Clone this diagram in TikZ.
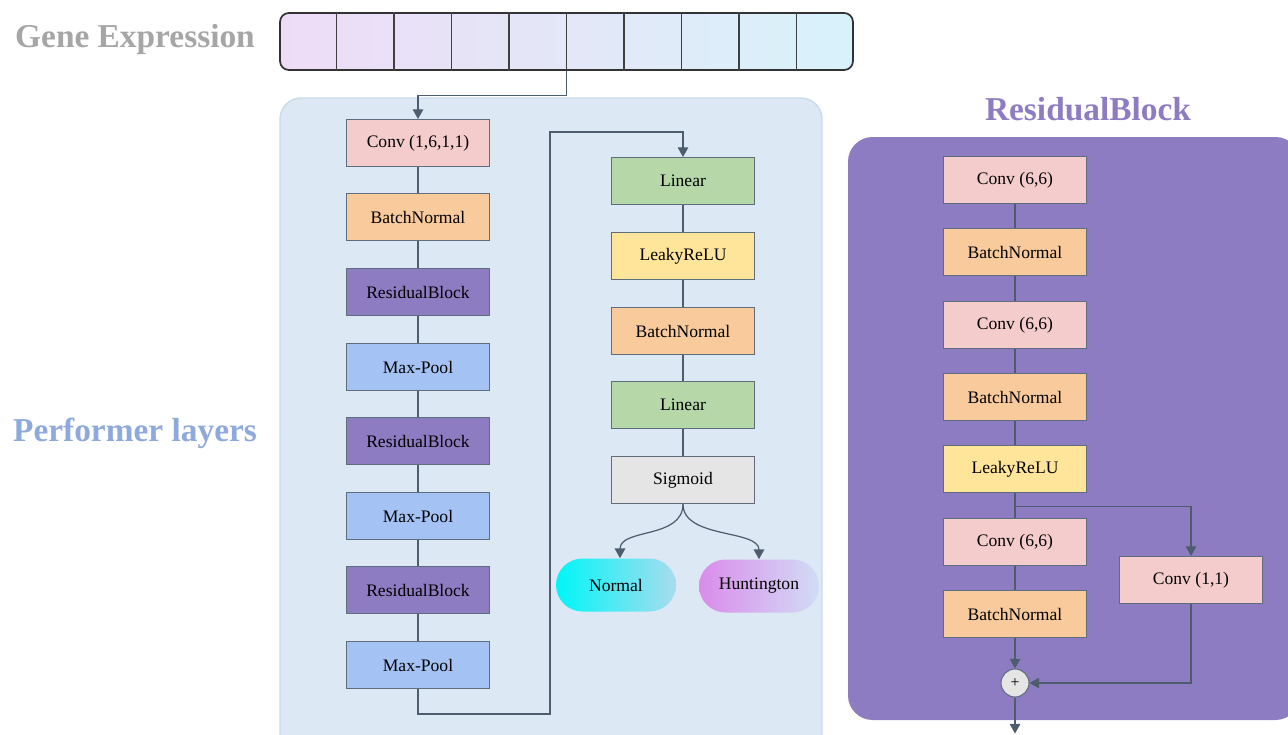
\documentclass[tikz,border=0pt]{standalone}
\usepackage{fontspec}
\setmainfont{Liberation Serif}
\usetikzlibrary{arrows.meta}
\usetikzlibrary{calc}
\definecolor{convpink}{HTML}{F4CCCC}
\definecolor{bnorange}{HTML}{F9CB9C}
\definecolor{respurple}{HTML}{8E7CC3}
\definecolor{poolblue}{HTML}{A4C2F4}
\definecolor{lingreen}{HTML}{B6D7A8}
\definecolor{reluyellow}{HTML}{FFE599}
\definecolor{siggray}{HTML}{E5E5E5}
\definecolor{edgegray}{HTML}{5E6E7E}
\definecolor{linegray}{HTML}{4E5D6E}
\definecolor{panelblue}{HTML}{DDE8F5}
\definecolor{paneledge}{HTML}{C8DAEE}
\definecolor{titlegray}{HTML}{A6A6A6}
\definecolor{titleblue}{HTML}{8EA9DB}
\definecolor{exprleft}{HTML}{EEDCF6}
\definecolor{exprright}{HTML}{D8F2FA}
\definecolor{normleft}{HTML}{00F6F8}
\definecolor{normright}{HTML}{A8DCEE}
\definecolor{huntleft}{HTML}{DA8CEA}
\definecolor{huntright}{HTML}{D2DCF6}
\tikzset{
  blk/.style={draw=edgegray,line width=0.6pt,minimum width=2.86cm,minimum height=0.94cm,inner sep=0pt,font=\fontsize{10}{12}\selectfont},
  conv/.style={blk,fill=convpink},
  bn/.style={blk,fill=bnorange},
  res/.style={blk,fill=respurple},
  pool/.style={blk,fill=poolblue},
  lin/.style={blk,fill=lingreen},
  lrelu/.style={blk,fill=reluyellow},
  sig/.style={blk,fill=siggray},
  pill/.style={minimum width=2.4cm,minimum height=1.06cm,rounded corners=0.53cm,inner sep=0pt,font=\fontsize{10}{12}\selectfont},
  ln/.style={draw=linegray,line width=0.7pt},
  arr/.style={ln,-{Triangle[length=5.5pt,width=6pt]}},
  title/.style={font=\fontsize{19}{22}\selectfont\bfseries}
}
\begin{document}
\begin{tikzpicture}[x=0.02cm,y=-0.02cm]
\useasboundingbox (0,0) rectangle (1288,734);
% panels
\filldraw[draw=paneledge,fill=panelblue,line width=0.8pt,rounded corners=12pt] (280,98) rectangle (822,780);
\fill[respurple,rounded corners=14pt] (848,137) rectangle (1300,720);
% titles
\node[title,text=titlegray] (tgene) at (135,39) {Gene Expression};
\node[title,text=titleblue] (tperf) at (135,433) {Performer layers};
\node[title,text=respurple] (tres) at (1088,109) {ResidualBlock};
% input vector
\node[draw=black!80,line width=1pt,rounded corners=5pt,minimum width=11.46cm,minimum height=1.14cm,inner sep=0pt,
  left color=exprleft,right color=exprright] (expr) at (566.5,41.5) {};
\foreach \i in {1,...,9}
  \draw[black!75,line width=0.8pt] ($(expr.north west)!\i/10!(expr.north east)$) -- ($(expr.south west)!\i/10!(expr.south east)$);
% left column
\node[conv] (c1) at (418,143) {Conv (1,6,1,1)};
\node[bn] (b1) at (418,217) {BatchNormal};
\node[res] (r1) at (418,292) {ResidualBlock};
\node[pool] (p1) at (418,367) {Max-Pool};
\node[res] (r2) at (418,441) {ResidualBlock};
\node[pool] (p2) at (418,516) {Max-Pool};
\node[res] (r3) at (418,590) {ResidualBlock};
\node[pool] (p3) at (418,665) {Max-Pool};
% right column
\node[lin] (l1) at (683,181) {Linear};
\node[lrelu] (a1) at (683,256) {LeakyReLU};
\node[bn] (b2) at (683,331) {BatchNormal};
\node[lin] (l2) at (683,405) {Linear};
\node[sig] (s1) at (683,480) {Sigmoid};
\node[pill,left color=normleft,right color=normright] (normal) at (616,585) {Normal};
\node[pill,left color=huntleft,right color=huntright] (hunt) at (759,586) {Huntington};
% residual block
\node[conv] (rc1) at (1015,180) {Conv (6,6)};
\node[bn] (rb1) at (1015,252) {BatchNormal};
\node[conv] (rc2) at (1015,325) {Conv (6,6)};
\node[bn] (rb2) at (1015,397) {BatchNormal};
\node[lrelu] (ra1) at (1015,469) {LeakyReLU};
\node[conv] (rc3) at (1015,542) {Conv (6,6)};
\node[bn] (rb3) at (1015,614) {BatchNormal};
\node[conv] (rc4) at (1191,580) {Conv (1,1)};
\node[circle,draw=edgegray,fill=siggray,line width=0.6pt,minimum size=0.56cm,inner sep=0pt,font=\small] (plus) at (1015,683) {+};
% connectors
\draw[arr] (expr.south) -- ++(0,25) -| (c1.north);
\foreach \u/\v in {c1/b1,b1/r1,r1/p1,p1/r2,r2/p2,p2/r3,r3/p3,l1/a1,a1/b2,b2/l2,l2/s1,rc1/rb1,rb1/rc2,rc2/rb2,rb2/ra1,ra1/rc3,rc3/rb3}
  \draw[ln] (\u.south) -- (\v.north);
\draw[arr] (p3.south) -- ++(0,25) -| (550,132) -| (l1.north);
\draw[arr] (s1.south) .. controls +(0,35) and +(0,-30) .. ($(normal.north)+(4,0)$);
\draw[arr] (s1.south) .. controls +(0,35) and +(0,-30) .. (hunt.north);
\coordinate (split) at ($(ra1.south)!0.55!(rc3.north)$);
\draw[arr] (split) -| (rc4.north);
\draw[arr] (rb3.south) -- (plus.north);
\draw[arr] (rc4.south) |- (plus.east);
\draw[arr] (plus.south) -- ++(0,36);
\end{tikzpicture}
\end{document}
